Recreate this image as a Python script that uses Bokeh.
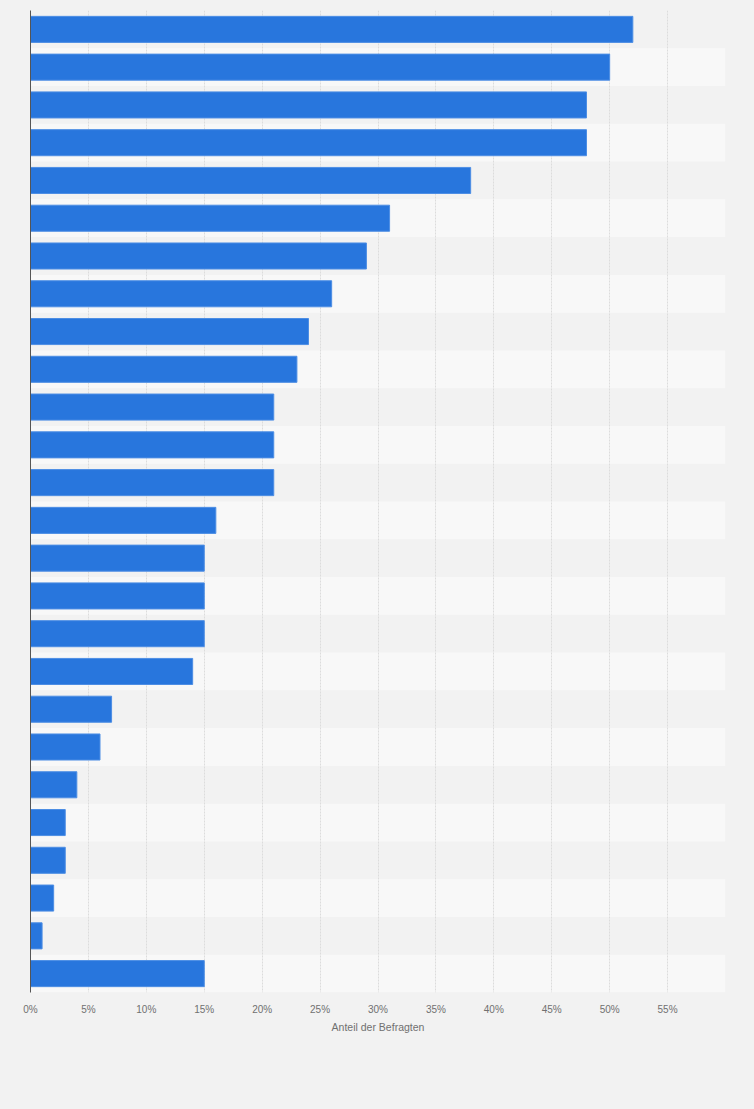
from bokeh.plotting import figure
from bokeh.models import Range1d, FixedTicker, PrintfTickFormatter, GlobalInlineStyleSheet
from bokeh.embed import file_html
from bokeh.resources import INLINE

# Values (share of respondents, %) top to bottom
values = [52, 50, 48, 48, 38, 31, 29, 26, 24, 23, 21, 21, 21, 16, 15, 15, 15, 14, 7, 6, 4, 3, 3, 2, 1, 15]
x_ticks = [0, 5, 10, 15, 20, 25, 30, 35, 40, 45, 50, 55]
grid_ticks = x_ticks + [60]
x_label = "Anteil der Befragten"

rows = list(range(len(values)))
band_rows = [r for r in rows if r % 2 == 1]

BG = "#f2f2f2"

p = figure(
    output_backend="svg", toolbar_location=None,
    x_range=Range1d(0, 60), y_range=Range1d(len(values) - 0.5, -0.5),
    frame_width=695, frame_height=982,
    min_border_left=30, min_border_top=10, min_border_right=21, min_border_bottom=105,
    background_fill_color=BG, border_fill_color=BG, outline_line_color=None,
    stylesheets=[GlobalInlineStyleSheet(css="body{background:#f2f2f2;}")],
)

# alternating row bands
p.hbar(y=band_rows, left=0, right=60, height=1.0, fill_color="#f8f8f8",
       line_color=None, level="image")

p.hbar(y=rows, left=0, right=values, height=0.69, fill_color="#2876dd",
       line_color="#4d8ee4", line_width=1)

# grids
p.ygrid.visible = False
p.xgrid.ticker = FixedTicker(ticks=grid_ticks)
p.xgrid.grid_line_color = "#dcdcdc"
p.xgrid.grid_line_dash = "2 1"
p.xgrid.grid_line_width = 1

# x axis
p.xaxis.ticker = FixedTicker(ticks=x_ticks)
p.xaxis.formatter = PrintfTickFormatter(format="%d%%")
p.xaxis.axis_line_color = None
p.xaxis.major_tick_line_color = None
p.xaxis.minor_tick_line_color = None
p.xaxis.major_tick_out = 0
p.xaxis.major_label_standoff = 11
p.xaxis.major_label_text_font = "Liberation Sans"
p.xaxis.major_label_text_font_size = "10px"
p.xaxis.major_label_text_color = "#707070"
p.xaxis.axis_label = x_label
p.xaxis.axis_label_standoff = 3
p.xaxis.axis_label_text_font = "Liberation Sans"
p.xaxis.axis_label_text_font_size = "10.5px"
p.xaxis.axis_label_text_font_style = "normal"
p.xaxis.axis_label_text_color = "#707070"

# y axis: line only
p.yaxis.ticker = FixedTicker(ticks=[])
p.yaxis.major_label_text_font_size = "0px"
p.yaxis.major_tick_line_color = None
p.yaxis.minor_tick_line_color = None
p.yaxis.axis_line_color = "#555555"
p.yaxis.axis_line_width = 1

open("out.html", "w").write(file_html(p, INLINE))
